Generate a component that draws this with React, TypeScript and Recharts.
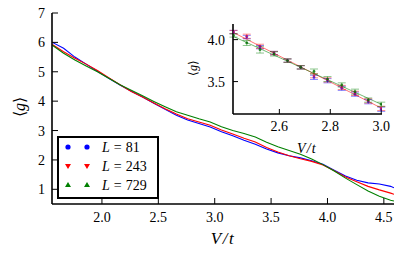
import React from 'react';
import { ComposedChart, Line, XAxis, YAxis, Scatter, ErrorBar, CartesianGrid } from 'recharts';

const FONT = '"Liberation Serif", serif';

// Main plot data
const vt = [1.56, 1.66, 1.76, 1.86, 1.96, 2.06, 2.16, 2.26, 2.36, 2.46, 2.56, 2.66, 2.76, 2.86, 2.96, 3.06, 3.16, 3.26, 3.36, 3.46, 3.56, 3.66, 3.76, 3.86, 3.96, 4.06, 4.16, 4.26, 4.36, 4.46, 4.56, 4.59];
const g81 = [6.0, 5.8, 5.5, 5.26, 5.02, 4.78, 4.55, 4.34, 4.14, 3.93, 3.72, 3.52, 3.36, 3.24, 3.12, 2.96, 2.82, 2.67, 2.53, 2.37, 2.24, 2.14, 2.07, 1.97, 1.85, 1.65, 1.45, 1.31, 1.22, 1.18, 1.1, 1.05];
const g243 = [5.93, 5.68, 5.46, 5.26, 5.04, 4.8, 4.56, 4.33, 4.14, 3.94, 3.74, 3.56, 3.4, 3.29, 3.18, 3.02, 2.88, 2.74, 2.61, 2.42, 2.27, 2.14, 2.04, 1.95, 1.83, 1.63, 1.42, 1.26, 1.1, 0.98, 0.87, 0.83];
const g729 = [5.9, 5.63, 5.4, 5.2, 5.0, 4.78, 4.56, 4.37, 4.18, 3.99, 3.81, 3.64, 3.52, 3.4, 3.29, 3.13, 3.0, 2.9, 2.78, 2.6, 2.45, 2.32, 2.19, 2.03, 1.84, 1.62, 1.38, 1.16, 0.94, 0.76, 0.63, 0.6];
const xTicks = [2.0, 2.5, 3.0, 3.5, 4.0, 4.5];
const yTicks = [1, 2, 3, 4, 5, 6, 7];

// Inset data
const insetVt = [2.42, 2.472, 2.524, 2.579, 2.632, 2.684, 2.736, 2.789, 2.845, 2.897, 2.949, 3.0];
const inset81 = [4.09, 4.03, 3.91, 3.84, 3.75, 3.67, 3.55, 3.51, 3.42, 3.35, 3.26, 3.17];
const inset243 = [4.09, 4.04, 3.92, 3.84, 3.75, 3.67, 3.57, 3.52, 3.43, 3.36, 3.27, 3.18];
const inset729 = [4.05, 3.96, 3.88, 3.83, 3.75, 3.67, 3.62, 3.53, 3.46, 3.38, 3.28, 3.23];
const insetErr81 = [0.02, 0.02, 0.02, 0.02, 0.02, 0.02, 0.025, 0.025, 0.025, 0.025, 0.025, 0.025];
const insetErr243 = [0.02, 0.025, 0.025, 0.02, 0.02, 0.02, 0.025, 0.025, 0.025, 0.025, 0.025, 0.025];
const insetErr729 = [0.02, 0.03, 0.04, 0.025, 0.02, 0.02, 0.03, 0.03, 0.025, 0.03, 0.025, 0.025];
const insetFitVt = [2.418, 3.003];
const insetFit243 = [4.087, 3.18];
const insetFit729 = [4.04, 3.225];
const insetXTicks = [2.6, 2.8, 3.0];
const insetYTicks = [3.5, 4.0];

const mainData = vt.map((x, i) => ({ x, a: g81[i], b: g243[i], c: g729[i] }));
const mkInset = (ys: number[], es: number[]) => insetVt.map((x, i) => ({ x, y: ys[i], e: es[i] }));
const fit243 = insetFitVt.map((x, i) => ({ x, y: insetFit243[i] }));
const fit729 = insetFitVt.map((x, i) => ({ x, y: insetFit729[i] }));

const tickStyle = { fill: '#000', fontSize: 14, fontFamily: FONT, style: { fontFamily: FONT } };
const axisLine = { stroke: '#000', strokeWidth: 1.6 };
const tickLine = { stroke: '#000', strokeWidth: 1 };
const fmt1 = (v: number) => v.toFixed(1);
const blank = () => '';
const serif = { fontFamily: FONT };

const Dot = (color: string) => (props: any) => {
  const { cx, cy } = props;
  if (cx == null || cy == null) return <g />;
  return <circle cx={cx} cy={cy} r={1.4} fill={color} />;
};

export default function App() {
  return (
    <div style={{ position: 'absolute', left: 0, top: 0, width: 415, height: 256, background: '#fff', fontFamily: FONT }}>
      <div style={{ position: 'absolute', left: 0, top: 0 }}>
        <ComposedChart width={415} height={256} data={mainData} margin={{ top: 13, right: 21, bottom: 22, left: 12 }} style={serif}>
          <XAxis xAxisId="b" type="number" dataKey="x" domain={[1.557, 4.59]} allowDataOverflow ticks={xTicks}
            tickFormatter={fmt1} tickSize={-6} tickMargin={14} height={30} axisLine={axisLine} tickLine={tickLine} tick={tickStyle} />
          <XAxis xAxisId="t" orientation="top" type="number" dataKey="x" domain={[1.557, 4.59]} allowDataOverflow ticks={xTicks}
            tickFormatter={blank} tickSize={-6} height={0} axisLine={axisLine} tickLine={tickLine} tick={tickStyle} />
          <YAxis yAxisId="l" type="number" domain={[0.5, 7]} allowDataOverflow ticks={yTicks} width={40}
            tickSize={-6} tickMargin={13} axisLine={axisLine} tickLine={tickLine} tick={tickStyle} />
          <YAxis yAxisId="r" orientation="right" type="number" domain={[0.5, 7]} allowDataOverflow ticks={yTicks} width={0}
            tickFormatter={blank} tickSize={-6} axisLine={axisLine} tickLine={tickLine} tick={tickStyle} />
          <Line xAxisId="b" yAxisId="l" dataKey="a" stroke="#0000ff" strokeWidth={1.1} dot={false} isAnimationActive={false} />
          <Line xAxisId="b" yAxisId="l" dataKey="b" stroke="#ff0000" strokeWidth={1.1} dot={false} isAnimationActive={false} />
          <Line xAxisId="b" yAxisId="l" dataKey="c" stroke="#008000" strokeWidth={1.1} dot={false} isAnimationActive={false} />
        </ComposedChart>
      </div>

      <div style={{ position: 'absolute', left: 170, top: 0 }}>
        <ComposedChart width={240} height={160} margin={{ top: 24, right: 28, bottom: 16, left: 23 }} style={serif}>
          <CartesianGrid xAxisId="b" yAxisId="l" horizontal={false} vertical={false} fill="#ffffff" fillOpacity={1} />
          <XAxis xAxisId="b" type="number" dataKey="x" domain={[2.418, 3.003]} allowDataOverflow ticks={insetXTicks}
            tickFormatter={fmt1} tickSize={-5} tickMargin={12} height={30} axisLine={axisLine} tickLine={tickLine} tick={tickStyle} />
          <XAxis xAxisId="t" orientation="top" type="number" dataKey="x" domain={[2.418, 3.003]} allowDataOverflow ticks={insetXTicks}
            tickFormatter={blank} tickSize={-5} height={0} axisLine={axisLine} tickLine={tickLine} tick={tickStyle} />
          <YAxis yAxisId="l" type="number" domain={[3.114, 4.186]} allowDataOverflow ticks={insetYTicks} width={40}
            tickFormatter={fmt1} tickSize={-5} tickMargin={13} axisLine={axisLine} tickLine={tickLine} tick={tickStyle} />
          <YAxis yAxisId="r" orientation="right" type="number" domain={[3.114, 4.186]} allowDataOverflow ticks={insetYTicks} width={0}
            tickFormatter={blank} tickSize={-5} axisLine={axisLine} tickLine={tickLine} tick={tickStyle} />
          <Line xAxisId="b" yAxisId="l" data={fit243} dataKey="y" stroke="#ff0000" strokeOpacity={0.55} strokeWidth={1} dot={false} isAnimationActive={false} />
          <Line xAxisId="b" yAxisId="l" data={fit729} dataKey="y" stroke="#008000" strokeOpacity={0.55} strokeWidth={1} dot={false} isAnimationActive={false} />
          <Scatter xAxisId="b" yAxisId="l" data={mkInset(inset81, insetErr81)} dataKey="y" fill="#0000ff" shape={Dot('rgba(0,0,255,0.6)')} isAnimationActive={false}>
            <ErrorBar dataKey="e" direction="y" width={4} stroke="#0000ff" strokeOpacity={0.45} strokeWidth={1} isAnimationActive={false} />
          </Scatter>
          <Scatter xAxisId="b" yAxisId="l" data={mkInset(inset243, insetErr243)} dataKey="y" fill="#ff0000" shape={Dot('rgba(220,0,60,0.6)')} isAnimationActive={false}>
            <ErrorBar dataKey="e" direction="y" width={4} stroke="#ff0000" strokeOpacity={0.45} strokeWidth={1} isAnimationActive={false} />
          </Scatter>
          <Scatter xAxisId="b" yAxisId="l" data={mkInset(inset729, insetErr729)} dataKey="y" fill="#008000" shape={Dot('rgba(0,110,0,0.8)')} isAnimationActive={false}>
            <ErrorBar dataKey="e" direction="y" width={4} stroke="#008000" strokeOpacity={0.45} strokeWidth={1} isAnimationActive={false} />
          </Scatter>
        </ComposedChart>
      </div>

      <svg width={415} height={256} style={{ position: 'absolute', left: 0, top: 0, pointerEvents: 'none', fontFamily: FONT }}>
        <text transform="translate(19,107) rotate(-90)" textAnchor="middle" dominantBaseline="central" fontSize={16} fill="#000" style={serif}>
          ⟨<tspan fontStyle="italic">g</tspan>⟩
        </text>
        <text x={223} y={238} textAnchor="middle" dominantBaseline="central" fontSize={17} fontStyle="italic" letterSpacing={1.5} fill="#000" style={serif}>V/t</text>
        <text transform="translate(193,68) rotate(-90)" textAnchor="middle" dominantBaseline="central" fontSize={12} fill="#000" style={serif}>
          ⟨<tspan fontStyle="italic">g</tspan>⟩
        </text>
        <text x={307} y={148} textAnchor="middle" dominantBaseline="central" fontSize={14} fontStyle="italic" letterSpacing={1.2} fill="#000" style={serif}>V/t</text>

        <rect x={58} y={137} width={100} height={61} fill="#fff" stroke="#000" strokeWidth={2} />
        <circle cx={68} cy={147} r={2.6} fill="#0000ff" />
        <circle cx={87} cy={147} r={2.6} fill="#0000ff" />
        <polygon points="65,164 71,164 68,169" fill="#ff0000" />
        <polygon points="84,164 90,164 87,169" fill="#ff0000" />
        <polygon points="65,187 71,187 68,182" fill="#008000" />
        <polygon points="84,187 90,187 87,182" fill="#008000" />
        <text x={102} y={152} fontSize={14} fill="#000" style={serif}><tspan fontStyle="italic">L</tspan><tspan dx={4}>=</tspan><tspan dx={4}>81</tspan></text>
        <text x={102} y={171} fontSize={14} fill="#000" style={serif}><tspan fontStyle="italic">L</tspan><tspan dx={4}>=</tspan><tspan dx={4}>243</tspan></text>
        <text x={102} y={190} fontSize={14} fill="#000" style={serif}><tspan fontStyle="italic">L</tspan><tspan dx={4}>=</tspan><tspan dx={4}>729</tspan></text>
      </svg>
    </div>
  );
}
